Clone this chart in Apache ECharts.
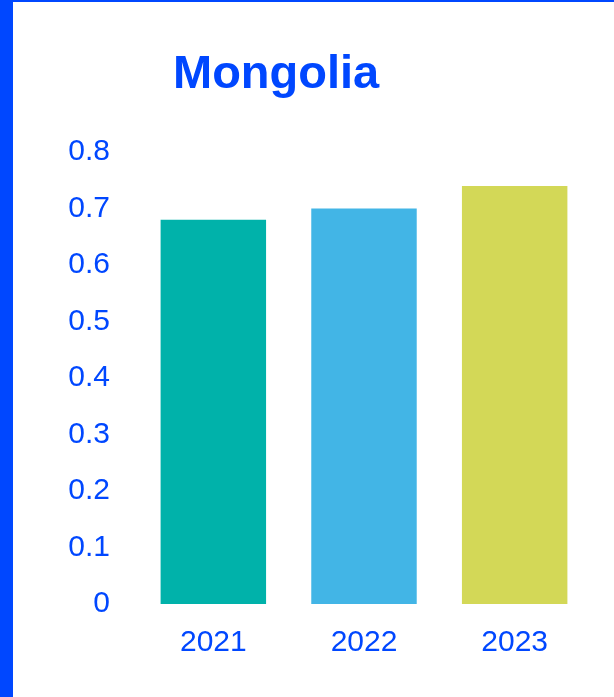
<!DOCTYPE html>
<html>
<head>
<meta charset="utf-8">
<script src="https://cdn.jsdelivr.net/npm/echarts@6/dist/echarts.min.js"></script>
<style>
html,body{margin:0;padding:0;background:#fff;}
#c{width:614px;height:697px;}
</style>
</head>
<body>
<div id="c"></div>
<script>
const title = 'Mongolia';
const categories = ['2021', '2022', '2023'];
const values = [0.68, 0.70, 0.74];
const barColors = ['#00B2AA', '#42B5E6', '#D3D857'];

const blue = '#0047FF';
const chart = echarts.init(document.getElementById('c'), null, {renderer: 'canvas'});
chart.setOption({
  animation: false,
  backgroundColor: '#fff',
  graphic: [
    {type: 'rect', left: 0, top: 0, shape: {width: 13, height: 697}, style: {fill: blue}, z: 100},
    {type: 'rect', left: 0, top: 0, shape: {width: 614, height: 2}, style: {fill: blue}, z: 100}
  ],
  title: {
    text: title,
    left: 168,
    top: 47,
    textStyle: {color: blue, fontSize: 47, fontWeight: 'bold', fontFamily: 'Liberation Sans, Arial, sans-serif'}
  },
  grid: {left: 138, right: 24, top: 152, bottom: 93, containLabel: false},
  xAxis: {
    type: 'category',
    data: categories,
    axisLine: {show: false},
    axisTick: {show: false},
    axisLabel: {color: blue, fontSize: 30, margin: 24, fontFamily: 'Liberation Sans, Arial, sans-serif'}
  },
  yAxis: {
    type: 'value',
    min: 0,
    max: 0.8,
    interval: 0.1,
    axisLine: {show: false},
    axisTick: {show: false},
    splitLine: {show: false},
    axisLabel: {color: blue, fontSize: 30, margin: 28, fontFamily: 'Liberation Sans, Arial, sans-serif'}
  },
  series: [{
    type: 'bar',
    data: values.map((v, i) => ({value: v, itemStyle: {color: barColors[i]}})),
    barCategoryGap: '30%'
  }]
});
</script>
</body>
</html>
